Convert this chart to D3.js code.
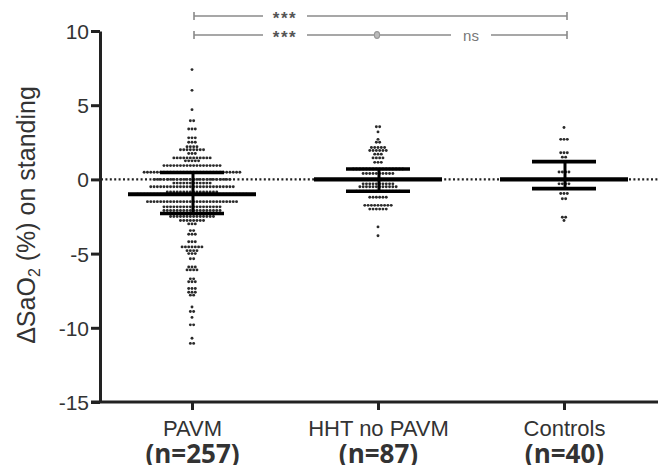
<!DOCTYPE html>
<html>
<head>
  <style>
    body{
      margin:0;
      background:#fff;
    }
    svg{
      display:block;
      font-family: "Liberation Sans", Arial, sans-serif;
    }
    .dot{
      fill:#2a2a2a;
    }
    .tick text{
      fill:#333;
    }
    .sig{
      stroke:#8a8a8a;
      stroke-width:1.6;
    }
  </style>
  <script src="https://d3js.org/d3.v7.min.js"></script>
</head>
<body>
<div class="chart"></div>
<script>
// groups and their labels
const groups = ['PAVM', 'HHT no PAVM', 'Controls'];
const groupN = ['(n=257)', '(n=87)', '(n=40)'];

// rows of the dot plot: value of the row and how many points sit in it
const pavmValues = [7.4, 6.0, 4.7, 3.95, 3.4, 2.8, 2.5, 2.2, 2.0, 1.75, 1.45, 1.25, 0.93, 0.48, 0, -0.25, -0.5, -0.85, -1.0, -1.5, -1.85, -2.1, -2.3, -2.5, -2.77, -3.0, -3.45, -3.7, -4.2, -4.55, -4.8, -5.0, -5.35, -5.9, -6.1, -6.7, -6.9, -7.35, -7.6, -7.8, -8.6, -8.9, -9.3, -9.8, -10.7, -11.05];
const pavmCounts = [1, 1, 1, 2, 3, 3, 3, 4, 8, 3, 12, 5, 18, 30, 24, 12, 26, 16, 34, 28, 18, 18, 16, 14, 8, 3, 2, 3, 3, 7, 4, 3, 2, 3, 4, 2, 3, 3, 3, 2, 1, 2, 1, 2, 1, 2];

const hhtValues = [3.55, 3.2, 2.7, 2.5, 2.15, 1.95, 1.7, 1.45, 1.15, 0.7, 0.4, 0, -0.3, -0.5, -0.8, -1.2, -1.75, -2.0, -3.2, -3.8];
const hhtCounts = [2, 1, 1, 2, 5, 6, 3, 4, 3, 16, 10, 16, 10, 12, 14, 6, 9, 6, 1, 1];

const ctrlValues = [3.5, 2.7, 1.8, 1.5, 1.2, 0.5, 0, -0.3, -0.62, -0.95, -1.3, -2.55, -2.77];
const ctrlCounts = [1, 3, 3, 2, 4, 4, 5, 4, 6, 3, 2, 2, 1];

// median and interquartile range drawn over each group
const medians = [-1.0, 0, 0];
const q1 = [-2.3, -0.8, -0.62];
const q3 = [0.46, 0.7, 1.2];

// significance brackets
const brackets = [
  {row: 0, from: 'PAVM', to: 'Controls', labels: [{text: '***', between: ['PAVM', 'HHT no PAVM']}]},
  {row: 1, from: 'PAVM', to: 'Controls', labels: [{text: '***', between: ['PAVM', 'HHT no PAVM']}, {text: 'ns', between: ['HHT no PAVM', 'Controls']}]}
];

const yTicks = [-15, -10, -5, 0, 5, 10];

const width = 658;
const height = 465;

const svg = d3.select('.chart')
  .append('svg')
  .attr('width', width)
  .attr('height', height);

const y = d3.scaleLinear().domain([-15, 10]).range([402, 31]);
const x = d3.scalePoint().domain(groups).range([192, 564]);
const pitch = 3.3;

const rows = [
  {values: pavmValues, counts: pavmCounts},
  {values: hhtValues, counts: hhtCounts},
  {values: ctrlValues, counts: ctrlCounts}
];

// zero reference line
svg.append('line')
  .attr('x1', 101).attr('x2', width)
  .attr('y1', y(0)).attr('y2', y(0))
  .attr('stroke', '#222')
  .attr('stroke-width', 2.2)
  .attr('stroke-dasharray', '2,2.4');

// dots
rows.forEach((g, gi) => {
  const pts = [];
  g.values.forEach((v, i) => {
    const c = g.counts[i];
    for(let k = 0; k < c; k++){
      pts.push({v: v, off: (k - (c - 1) / 2) * pitch});
    }
  });
  svg.append('g')
    .selectAll('circle')
    .data(pts)
    .join('circle')
    .attr('class', 'dot')
    .attr('cx', d => x(groups[gi]) + d.off)
    .attr('cy', d => y(d.v))
    .attr('r', 1.45);
});

// median + IQR
groups.forEach((g, i) => {
  const cx = x(g);
  const s = svg.append('g').attr('stroke', '#000');
  s.append('line')
    .attr('x1', cx - 64).attr('x2', cx + 64)
    .attr('y1', y(medians[i])).attr('y2', y(medians[i]))
    .attr('stroke-width', 4.2);
  [q1[i], q3[i]].forEach(q => {
    s.append('line')
      .attr('x1', cx - 32).attr('x2', cx + 32)
      .attr('y1', y(q)).attr('y2', y(q))
      .attr('stroke-width', 3.6);
  });
  s.append('line')
    .attr('x1', cx + 1).attr('x2', cx + 1)
    .attr('y1', y(q3[i])).attr('y2', y(q1[i]))
    .attr('stroke-width', 3);
});

// y axis
const yAxis = svg.append('g')
  .attr('transform', 'translate(100,0)')
  .call(d3.axisLeft(y).tickValues(yTicks).tickSize(9).tickSizeOuter(0).tickPadding(2));
yAxis.select('.domain').attr('stroke', '#222').attr('stroke-width', 3);
yAxis.selectAll('.tick line').attr('stroke', '#222').attr('stroke-width', 3);
yAxis.selectAll('.tick text').attr('font-size', 21).attr('dy', '0.36em')
  .text(d => d < 0 ? '-' + Math.abs(d) : d);

// x axis
const xAxis = svg.append('g')
  .attr('transform', 'translate(0,402)')
  .call(d3.axisBottom(x).tickSize(8).tickSizeOuter(0).tickFormat(''));
xAxis.select('.domain').attr('d', 'M91,0H' + width).attr('stroke', '#222').attr('stroke-width', 3);
xAxis.selectAll('.tick line').attr('stroke', '#222').attr('stroke-width', 3);

xAxis.selectAll('.tick')
  .append('text')
  .attr('y', 34)
  .attr('font-size', 22)
  .attr('fill', '#333')
  .text(d => d);

xAxis.selectAll('.tick')
  .append('text')
  .attr('y', 61)
  .attr('font-size', 26)
  .attr('font-weight', 'bold')
  .attr('font-family', '"Open Sans", sans-serif')
  .attr('fill', '#838383')
  .text((d, i) => groupN[i]);

// y axis title
const title = svg.append('text')
  .attr('transform', 'translate(35,215) rotate(-90)')
  .attr('text-anchor', 'middle')
  .attr('font-size', 25)
  .attr('fill', '#333');
title.append('tspan').text('\u0394SaO');
title.append('tspan').attr('font-size', 16).attr('dy', 5).text('2');
title.append('tspan').attr('dy', -5).text(' (%) on standing');

// significance brackets
const rowY = [16, 35];
brackets.forEach(b => {
  const yy = rowY[b.row];
  const x0 = x(b.from) + 2, x1 = x(b.to) + 3;
  const gaps = b.labels.map(l => {
    const mid = (x(l.between[0]) + x(l.between[1])) / 2;
    return {mid: mid, half: l.text === 'ns' ? 20 : 22, text: l.text};
  }).sort((a, c) => a.mid - c.mid);
  let start = x0;
  const gEl = svg.append('g');
  gaps.forEach(gp => {
    gEl.append('line').attr('class', 'sig')
      .attr('x1', start).attr('x2', gp.mid - gp.half).attr('y1', yy).attr('y2', yy);
    start = gp.mid + gp.half;
    if(gp.text === 'ns'){
      gEl.append('text').attr('x', gp.mid).attr('y', yy + 6)
        .attr('text-anchor', 'middle').attr('font-size', 15).attr('fill', '#777')
        .text('ns');
    } else {
      gEl.append('text').attr('x', gp.mid).attr('y', yy + 8)
        .attr('text-anchor', 'middle').attr('font-size', 17).attr('font-weight', 'bold')
        .attr('letter-spacing', 1.5).attr('fill', '#555')
        .text(gp.text);
    }
  });
  gEl.append('line').attr('class', 'sig')
    .attr('x1', start).attr('x2', x1).attr('y1', yy).attr('y2', yy);
  [x0, x1].forEach(xe => {
    gEl.append('line').attr('class', 'sig')
      .attr('x1', xe).attr('x2', xe).attr('y1', yy - 4).attr('y2', yy + 4);
  });
  if(b.row === 1){
    gEl.append('ellipse')
      .attr('cx', x('HHT no PAVM') - 1).attr('cy', yy)
      .attr('rx', 2.6).attr('ry', 3.4)
      .attr('fill', '#bbb').attr('stroke', '#999').attr('stroke-width', 1.2);
  }
});
</script>
</body>
</html>
